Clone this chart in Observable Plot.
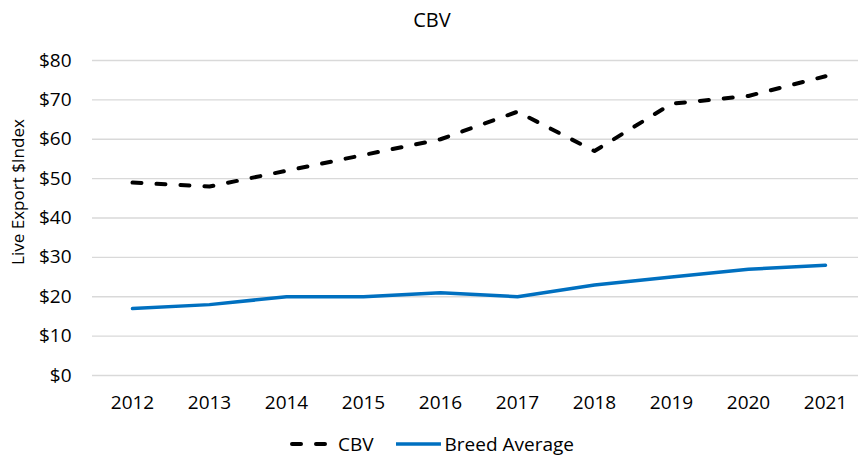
<!DOCTYPE html>
<html>
<head>
<meta charset="utf-8">
<script src="https://cdn.jsdelivr.net/npm/d3@7"></script>
<script src="https://cdn.jsdelivr.net/npm/@observablehq/plot@0.6"></script>
<style>
  html, body { margin: 0; padding: 0; background: #fff; }
  body { width: 858px; height: 462px; overflow: hidden; font-family: "Open Sans", sans-serif; color: #000; }
  #title { height: 40px; line-height: 40px; text-align: center; font-size: 20px; padding-left: 6px; box-sizing: border-box; }
  #legend { height: 37px; display: flex; align-items: center; justify-content: flex-start; font-size: 19px; }
  #legend .item { display: flex; align-items: center; }
  #legend svg { display: block; }
</style>
</head>
<body>
<div id="title">CBV</div>
<div id="chart"></div>
<div id="legend"></div>
<script>
const years = ["2012","2013","2014","2015","2016","2017","2018","2019","2020","2021"];
const cbv = [49, 48, 52, 56, 60, 67, 57, 69, 71, 76];
const breedAverage = [17, 18, 20, 20, 21, 20, 23, 25, 27, 28];
const yTicks = [0, 10, 20, 30, 40, 50, 60, 70, 80];
const seriesNames = ["CBV", "Breed Average"];
const yLabel = "Live Export $Index";
const blue = "#0070C0";

const cbvData = years.map((y, i) => ({year: y, value: cbv[i]}));
const breedData = years.map((y, i) => ({year: y, value: breedAverage[i]}));

const plot = Plot.plot({
  width: 858,
  height: 385,
  marginTop: 20,
  marginBottom: 50,
  marginLeft: 92,
  marginRight: 0,
  style: {fontFamily: "Open Sans, sans-serif", fontSize: "19px", color: "#000", overflow: "visible"},
  x: {type: "point", domain: years, range: [130, 826], padding: 0},
  y: {domain: [0, 80], ticks: yTicks},
  marks: [
    Plot.ruleY(yTicks, {stroke: "#d9d9d9", strokeWidth: 1.3}),
    Plot.axisY({ticks: yTicks, tickSize: 0, tickPadding: 21, tickFormat: d => "$" + d, label: null}),
    Plot.axisX({tickSize: 0, tickPadding: 20, label: null}),
    Plot.text([yLabel], {frameAnchor: "left", textAnchor: "middle", rotate: -90, dx: -74, dy: -26, fontSize: 17}),
    Plot.line(breedData, {x: "year", y: "value", stroke: blue, strokeWidth: 3.5}),
    Plot.line(cbvData, {x: "year", y: "value", stroke: "#000", strokeWidth: 4, strokeDasharray: "9,15", strokeLinecap: "round"})
  ]
});
document.getElementById("chart").appendChild(plot);

const legend = document.getElementById("legend");
legend.innerHTML = `
  <div class="item" style="margin-left:290px">
    <svg width="40" height="10"><line x1="2" y1="5" x2="38" y2="5" stroke="#000" stroke-width="4" stroke-dasharray="9,15" stroke-linecap="round"/></svg>
    <span style="margin-left:8px">${seriesNames[0]}</span>
  </div>
  <div class="item" style="margin-left:22px">
    <svg width="45" height="10"><line x1="0" y1="5" x2="45" y2="5" stroke="${blue}" stroke-width="3.5"/></svg>
    <span style="margin-left:4px">${seriesNames[1]}</span>
  </div>`;
</script>
</body>
</html>
